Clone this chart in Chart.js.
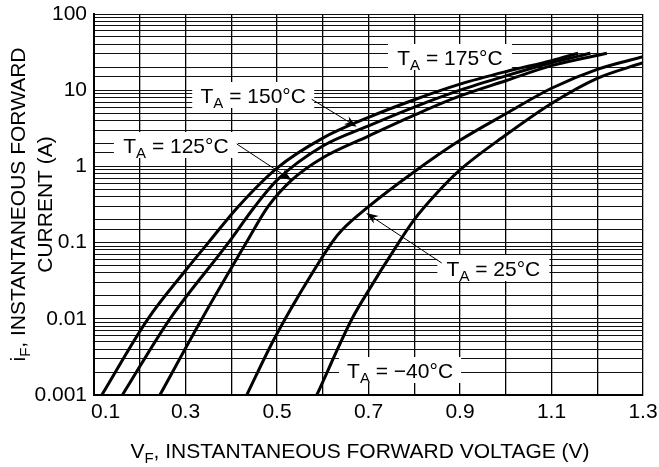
<!DOCTYPE html>
<html><head><meta charset="utf-8">
<script src="https://cdn.jsdelivr.net/npm/chart.js@4.4.1/dist/chart.umd.min.js"></script>
<style>html,body{margin:0;padding:0;background:#fff}canvas{display:block}</style>
</head><body>
<canvas id="c" width="659" height="467"></canvas>
<script>
// ---- data ----
const xLabelled = [0.1, 0.3, 0.5, 0.7, 0.9, 1.1, 1.3];
const yLabelled = [0.001, 0.01, 0.1, 1, 10, 100];

const v175 = [0.117, 0.218, 0.30, 0.35, 0.416, 0.5, 0.6, 0.7, 0.8, 0.9, 1.0, 1.1, 1.158];
const i175 = [0.001, 0.01, 0.043, 0.1, 0.3, 0.95, 2.35, 4.4, 7.5, 12, 17.5, 24.4, 30.5];

const v150 = [0.162, 0.266, 0.394, 0.452, 0.5, 0.6, 0.7, 0.8, 0.9, 1.0, 1.1, 1.185];
const i150 = [0.001, 0.01, 0.1, 0.3, 0.66, 1.85, 3.4, 6.0, 10, 15.4, 22.9, 30.5];

const v125 = [0.244, 0.336, 0.433, 0.481, 0.532, 0.6, 0.7, 0.8, 0.9, 1.0, 1.1, 1.221];
const i125 = [0.001, 0.01, 0.1, 0.3, 0.66, 1.3, 2.5, 4.7, 8.4, 13.3, 21, 30.5];

const v25 = [0.434, 0.485, 0.518, 0.547, 0.62, 0.642, 0.7, 0.8, 0.9, 1.0, 1.1, 1.2, 1.3];
const i25 = [0.001, 0.0043, 0.01, 0.02, 0.1, 0.146, 0.296, 0.85, 2.2, 4.9, 10.6, 18.8, 27.5];

const vM40 = [0.587, 0.664, 0.693, 0.766, 0.8, 0.85, 0.9, 1.0, 1.1, 1.2, 1.3];
const iM40 = [0.001, 0.01, 0.02, 0.1, 0.2, 0.45, 0.9, 2.58, 6.7, 14.3, 22.9];

const seriesNames = ['T_A = 175°C', 'T_A = 150°C', 'T_A = 125°C', 'T_A = 25°C', 'T_A = −40°C'];

// ---- presentation ----
const FONT = '"Liberation Sans", Arial, Helvetica, sans-serif';
const FS = 21;

function pts(v, i) { return v.map((x, k) => ({ x: x, y: i[k] })); }

const curves = [[v175, i175], [v150, i150], [v125, i125], [v25, i25], [vM40, iM40]];

const datasets = curves.map((c, k) => ({
  label: seriesNames[k],
  data: pts(c[0], c[1]),
  showLine: true,
  borderColor: '#000',
  borderWidth: 3,
  pointRadius: 0,
  cubicInterpolationMode: 'monotone',
  fill: false
}));

// label annotations (data coordinates of label centers and arrows)
const annotations = [
  { name: 0, at: [0.878, 27.3], box: 124 },
  { name: 1, at: [0.448, 8.65], box: 122, arrow: [[0.576, 7.6], [0.674, 3.32]] },
  { name: 2, at: [0.279, 1.91], box: 124, arrow: [[0.412, 1.97], [0.532, 0.66]] },
  { name: 3, at: [0.973, 0.0464], box: 112, arrow: [[0.86, 0.054], [0.695, 0.244]] },
  { name: 4, at: [0.769, 0.00213], box: 122 }
];

function parseRich(s) {
  const parts = [];
  let i = 0, buf = '';
  while (i < s.length) {
    if (s[i] === '_') {
      if (buf) parts.push({ t: buf }); buf = '';
      parts.push({ t: s[i + 1], sub: true }); i += 2;
    } else { buf += s[i]; i++; }
  }
  if (buf) parts.push({ t: buf });
  return parts;
}

function richWidth(ctx, parts, size) {
  let w = 0;
  parts.forEach(p => {
    ctx.font = (p.sub ? Math.round(size * 0.72) : size) + 'px ' + FONT;
    w += ctx.measureText(p.t).width;
  });
  return w;
}

function drawRich(ctx, str, cx, cy, size) {
  const parts = parseRich(str);
  const w = richWidth(ctx, parts, size);
  let x = cx - w / 2;
  const base = cy + size * 0.36;
  ctx.fillStyle = '#000';
  ctx.textAlign = 'left';
  ctx.textBaseline = 'alphabetic';
  parts.forEach(p => {
    const s = p.sub ? Math.round(size * 0.72) : size;
    ctx.font = s + 'px ' + FONT;
    ctx.fillText(p.t, x, p.sub ? base + size * 0.28 : base);
    x += ctx.measureText(p.t).width;
  });
}

const annotPlugin = {
  id: 'annot',
  beforeDatasetsDraw(chart) {
    const ctx = chart.ctx, xs = chart.scales.x, ys = chart.scales.y;
    ctx.save();
    annotations.forEach(a => {
      const cx = xs.getPixelForValue(a.at[0]);
      const cy = ys.getPixelForValue(a.at[1]);
      ctx.fillStyle = '#fff';
      ctx.fillRect(cx - a.box / 2, cy - 13, a.box, 26);
    });
    ctx.restore();
  },
  afterDatasetsDraw(chart) {
    const ctx = chart.ctx, xs = chart.scales.x, ys = chart.scales.y;
    ctx.save();
    annotations.forEach(a => {
      const cx = xs.getPixelForValue(a.at[0]);
      const cy = ys.getPixelForValue(a.at[1]);
      drawRich(ctx, seriesNames[a.name], cx, cy, FS);
      if (a.arrow) {
        const x0 = xs.getPixelForValue(a.arrow[0][0]), y0 = ys.getPixelForValue(a.arrow[0][1]);
        const x1 = xs.getPixelForValue(a.arrow[1][0]), y1 = ys.getPixelForValue(a.arrow[1][1]);
        const ang = Math.atan2(y1 - y0, x1 - x0);
        ctx.strokeStyle = '#000';
        ctx.lineWidth = 1;
        ctx.beginPath();
        ctx.moveTo(x0, y0);
        ctx.lineTo(x1 - 6 * Math.cos(ang), y1 - 6 * Math.sin(ang));
        ctx.stroke();
        const L = 12, W = 4.5;
        ctx.fillStyle = '#000';
        ctx.beginPath();
        ctx.moveTo(x1, y1);
        ctx.lineTo(x1 - L * Math.cos(ang) + W * Math.sin(ang), y1 - L * Math.sin(ang) - W * Math.cos(ang));
        ctx.lineTo(x1 - 0.7 * L * Math.cos(ang), y1 - 0.7 * L * Math.sin(ang));
        ctx.lineTo(x1 - L * Math.cos(ang) - W * Math.sin(ang), y1 - L * Math.sin(ang) + W * Math.cos(ang));
        ctx.closePath();
        ctx.fill();
      }
    });
    ctx.restore();
  },
  afterDraw(chart) {
    const ctx = chart.ctx, ca = chart.chartArea;
    ctx.save();
    drawRich(ctx, 'V_F, INSTANTANEOUS FORWARD VOLTAGE (V)', 360, 450, FS);
    const cy = (ca.top + ca.bottom) / 2;
    ctx.translate(17, cy);
    ctx.rotate(-Math.PI / 2);
    drawRich(ctx, 'i_F, INSTANTANEOUS FORWARD', 0, 0, FS);
    drawRich(ctx, 'CURRENT (A)', 0, 27, FS);
    ctx.restore();
  }
};

new Chart(document.getElementById('c'), {
  type: 'scatter',
  data: { datasets: datasets },
  plugins: [annotPlugin],
  options: {
    responsive: false,
    animation: false,
    events: [],
    layout: { padding: { top: 14, right: 16, left: 0, bottom: 0 } },
    plugins: { legend: { display: false }, tooltip: { enabled: false } },
    scales: {
      x: {
        type: 'linear',
        min: 0.1, max: 1.3,
        afterFit(s) { s.height = 72; s.paddingLeft = 0; s.paddingRight = 0; },
        afterBuildTicks(s) {
          const t = [];
          for (let k = 1; k <= 13; k++) t.push({ value: k / 10 });
          s.ticks = t;
        },
        ticks: {
          autoSkip: false, maxRotation: 0, padding: 5,
          color: '#000', font: { family: FONT, size: FS },
          callback(v) {
            const m = xLabelled.find(x => Math.abs(x - v) < 1e-6);
            if (m === undefined) return '';
            return (m === xLabelled[0] ? '    ' : '') + m.toFixed(1);
          }
        },
        grid: { color: '#000', lineWidth: 1.3, drawTicks: false },
        border: { color: '#000', width: 2 }
      },
      y: {
        type: 'logarithmic',
        min: 0.001, max: 100,
        afterFit(s) { s.width = 94; s.paddingTop = 0; s.paddingBottom = 0; },
        ticks: {
          autoSkip: false, padding: 7,
          color: '#000', font: { family: FONT, size: FS },
          callback(v) {
            const m = yLabelled.find(y => Math.abs(y - v) / y < 1e-6);
            return m !== undefined ? String(m) : '';
          }
        },
        grid: { color: '#111', lineWidth: 1, drawTicks: false },
        border: { color: '#000', width: 2 }
      }
    }
  }
});
</script>
</body></html>
